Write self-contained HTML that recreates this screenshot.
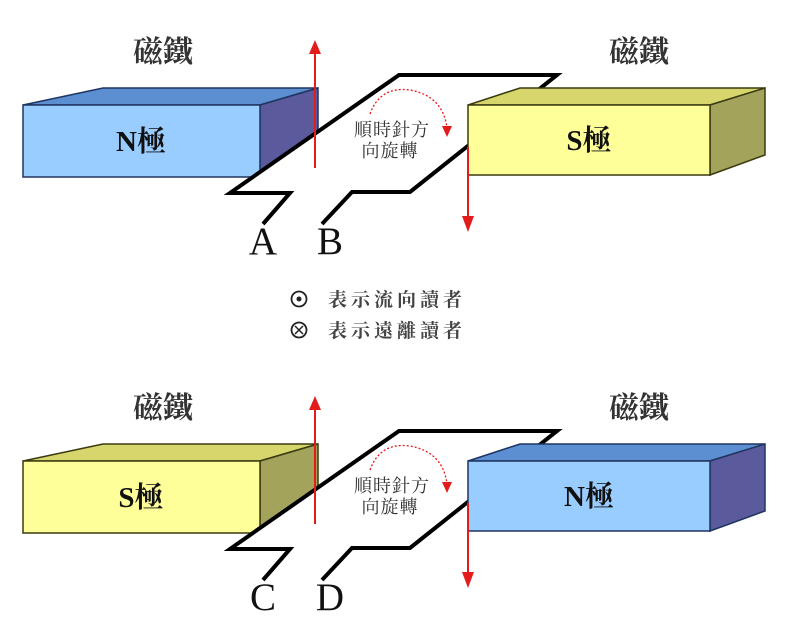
<!DOCTYPE html>
<html><head><meta charset="utf-8"><style>
html,body{margin:0;padding:0;background:#fff;}
svg{display:block;}
.cj{font-family:"Liberation Serif","Noto Serif CJK SC","Noto Sans CJK TC",serif;}
</style></head><body>
<svg width="786" height="619" viewBox="0 0 786 619" xmlns="http://www.w3.org/2000/svg">

<g id="top">
  <polygon points="23,105 103,88 318,88 260,105" fill="#5b8fd2" stroke="#1f3560" stroke-width="1.5"/>
  <polygon points="260,105 318,88 318,155 260,177" fill="#5a5a9c" stroke="#1f3560" stroke-width="1.5"/>
  <rect x="23" y="105" width="237" height="72" fill="#99ccff" stroke="#1f3560" stroke-width="1.5"/>
  <text x="141" y="151" class="cj" font-size="29" font-weight="bold" text-anchor="middle" fill="#111">N極</text>
  <path d="M322,224 L352,192 L410,192 L557,75 L399,75 L230,193 L290,193 L263,224" fill="#fff" stroke="#000" stroke-width="4" stroke-linejoin="miter"/>
  <polygon points="468,105 520,88 765,88 710,105" fill="#d6d66c" stroke="#3a3a10" stroke-width="1.5"/>
  <polygon points="710,105 765,88 765,155 710,175" fill="#a3a35c" stroke="#3a3a10" stroke-width="1.5"/>
  <rect x="468" y="105" width="242" height="70" fill="#ffff99" stroke="#3a3a10" stroke-width="1.5"/>
  <text x="589" y="150" class="cj" font-size="29" font-weight="bold" text-anchor="middle" fill="#111">S極</text>
  <line x1="315" y1="168" x2="315" y2="50" stroke="#e41b1b" stroke-width="2"/>
  <polygon points="309,54 321,54 315,40" fill="#e41b1b"/>
  <line x1="468" y1="147" x2="468" y2="220" stroke="#e41b1b" stroke-width="2"/>
  <polygon points="462,216 474,216 468,232" fill="#e41b1b"/>
  <path d="M370,114 Q380,86 410,90 Q443,96 447,128" fill="none" stroke="#e41b1b" stroke-width="1.3" stroke-dasharray="2,2"/>
  <polygon points="442,126 452,126 447,137" fill="#e41b1b"/>
  <text x="392" y="136" class="cj" font-size="18" text-anchor="middle" fill="#333" letter-spacing="1">順時針方</text>
  <text x="390" y="157" class="cj" font-size="18" text-anchor="middle" fill="#333" letter-spacing="1">向旋轉</text>
  <text x="163" y="62" class="cj" font-size="30" font-weight="bold" text-anchor="middle" fill="#333">磁鐵</text>
  <text x="639" y="62" class="cj" font-size="30" font-weight="bold" text-anchor="middle" fill="#333">磁鐵</text>
  <text x="263" y="254" class="cj" font-size="39" text-anchor="middle" fill="#111">A</text>
  <text x="330" y="254" class="cj" font-size="39" text-anchor="middle" fill="#111">B</text>
</g>

<circle cx="299" cy="299" r="7.5" fill="none" stroke="#222" stroke-width="1.8"/>
<circle cx="299" cy="299" r="2.5" fill="#222"/>
<text x="328" y="306" class="cj" font-size="19" font-weight="bold" fill="#444" letter-spacing="4">表示流向讀者</text>
<circle cx="299" cy="330" r="7.5" fill="none" stroke="#222" stroke-width="1.8"/>
<path d="M295,326 L303,334 M303,326 L295,334" stroke="#222" stroke-width="1.5"/>
<text x="328" y="337" class="cj" font-size="19" font-weight="bold" fill="#444" letter-spacing="4">表示遠離讀者</text>

<g transform="translate(0,356)">
  <polygon points="23,105 103,88 318,88 260,105" fill="#d6d66c" stroke="#3a3a10" stroke-width="1.5"/>
  <polygon points="260,105 318,88 318,155 260,177" fill="#a3a35c" stroke="#3a3a10" stroke-width="1.5"/>
  <rect x="23" y="105" width="237" height="72" fill="#ffff99" stroke="#3a3a10" stroke-width="1.5"/>
  <text x="141" y="151" class="cj" font-size="29" font-weight="bold" text-anchor="middle" fill="#111">S極</text>
  <path d="M322,224 L352,192 L410,192 L557,75 L399,75 L230,193 L290,193 L263,224" fill="#fff" stroke="#000" stroke-width="4"/>
  <polygon points="468,105 520,88 765,88 710,105" fill="#5b8fd2" stroke="#1f3560" stroke-width="1.5"/>
  <polygon points="710,105 765,88 765,155 710,175" fill="#5a5a9c" stroke="#1f3560" stroke-width="1.5"/>
  <rect x="468" y="105" width="242" height="70" fill="#99ccff" stroke="#1f3560" stroke-width="1.5"/>
  <text x="589" y="150" class="cj" font-size="29" font-weight="bold" text-anchor="middle" fill="#111">N極</text>
  <line x1="315" y1="168" x2="315" y2="50" stroke="#e41b1b" stroke-width="2"/>
  <polygon points="309,54 321,54 315,40" fill="#e41b1b"/>
  <line x1="468" y1="147" x2="468" y2="220" stroke="#e41b1b" stroke-width="2"/>
  <polygon points="462,216 474,216 468,232" fill="#e41b1b"/>
  <path d="M370,114 Q380,86 410,90 Q443,96 447,128" fill="none" stroke="#e41b1b" stroke-width="1.3" stroke-dasharray="2,2"/>
  <polygon points="442,126 452,126 447,137" fill="#e41b1b"/>
  <text x="392" y="136" class="cj" font-size="18" text-anchor="middle" fill="#333" letter-spacing="1">順時針方</text>
  <text x="390" y="157" class="cj" font-size="18" text-anchor="middle" fill="#333" letter-spacing="1">向旋轉</text>
  <text x="163" y="62" class="cj" font-size="30" font-weight="bold" text-anchor="middle" fill="#333">磁鐵</text>
  <text x="639" y="62" class="cj" font-size="30" font-weight="bold" text-anchor="middle" fill="#333">磁鐵</text>
  <text x="263" y="254" class="cj" font-size="39" text-anchor="middle" fill="#111">C</text>
  <text x="330" y="254" class="cj" font-size="39" text-anchor="middle" fill="#111">D</text>
</g>
</svg>
</body></html>
